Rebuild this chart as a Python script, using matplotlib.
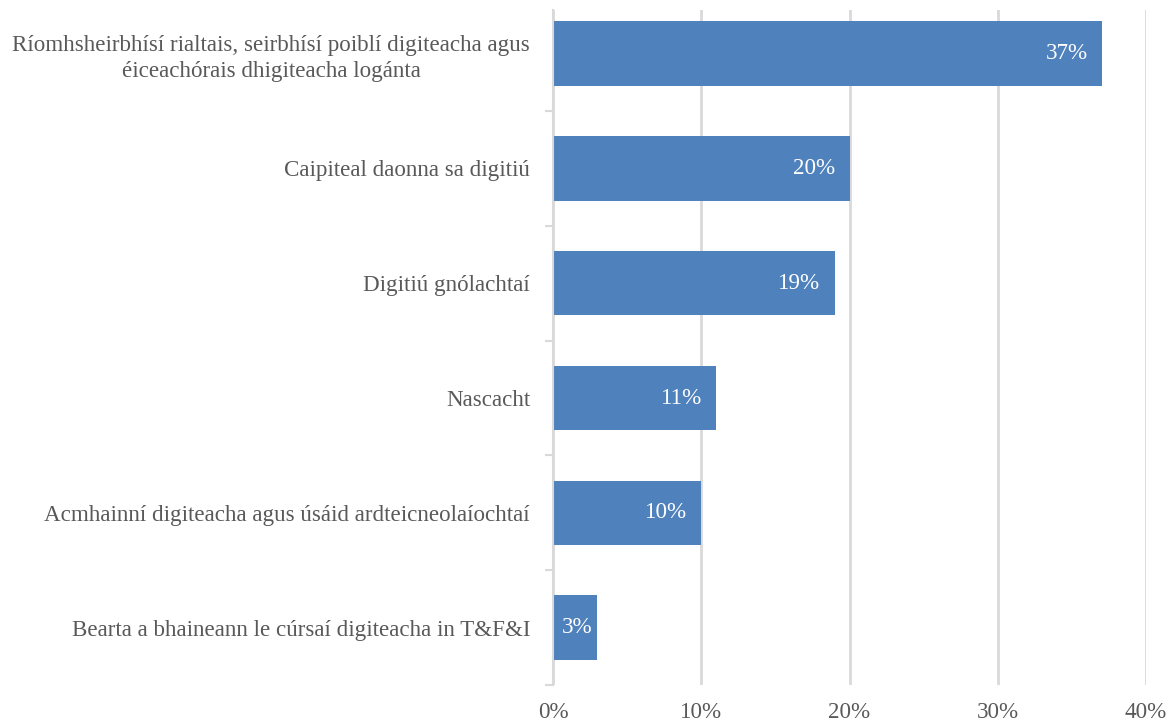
import numpy as np
import matplotlib.pyplot as plt
from matplotlib.ticker import FixedLocator, PercentFormatter

plt.rcParams['font.family'] = ['Liberation Serif', 'DejaVu Serif']

categories = [
    "Ríomhsheirbhísí rialtais, seirbhísí poiblí digiteacha agus\néiceachórais dhigiteacha logánta",
    "Caipiteal daonna sa digitiú",
    "Digitiú gnólachtaí",
    "Nascacht",
    "Acmhainní digiteacha agus úsáid ardteicneolaíochtaí",
    "Bearta a bhaineann le cúrsaí digiteacha in T&F&I",
]
values = [37, 20, 19, 11, 10, 3]
xticks = [0, 10, 20, 30, 40]

bar_color = '#4f81bd'
grid_color = '#d9d9d9'
text_color = '#595959'
FS = 16.6

fig = plt.figure(figsize=(11.73, 7.22), dpi=100)
ax = fig.add_axes([553 / 1173, 1 - 685 / 722, (1146 - 553) / 1173, (685 - 10) / 722])

y = np.arange(len(categories))
ax.barh(y, values, height=0.56, color=bar_color, zorder=3)
ax.set_ylim(len(categories) - 0.5, -0.38)
ax.set_xlim(0, 40)

for yi, v in zip(y, values):
    if v < 5:
        # short bar: label sits in the middle
        ax.text(v / 2 + 0.1, yi, f"{v}%", ha='center', va='center',
                color='white', fontsize=FS, zorder=4)
    else:
        ax.text(v - 0.95, yi, f"{v}%", ha='right', va='center',
                color='white', fontsize=FS, zorder=4)

ax.set_yticks(y)
ax.set_yticklabels(categories, fontsize=FS, color=text_color, ha='right',
                   multialignment='center', linespacing=1.3)
ax.tick_params(axis='y', which='major', length=0, pad=16.5)
ax.yaxis.set_minor_locator(FixedLocator(np.arange(0.5, len(categories), 1)))
ax.tick_params(axis='y', which='minor', length=6, width=1.5, color=grid_color)

ax.set_xticks(xticks)
ax.xaxis.set_major_formatter(PercentFormatter(decimals=0))
ax.tick_params(axis='x', length=0, labelsize=FS, labelcolor=text_color, pad=12)

ax.grid(axis='x', color=grid_color, linewidth=2, zorder=0)
for s in ['top', 'right', 'bottom']:
    ax.spines[s].set_visible(False)
ax.spines['left'].set_color(grid_color)
ax.spines['left'].set_linewidth(1.5)
ax.spines['left'].set_zorder(5)

fig.savefig('out.png', dpi=100)
